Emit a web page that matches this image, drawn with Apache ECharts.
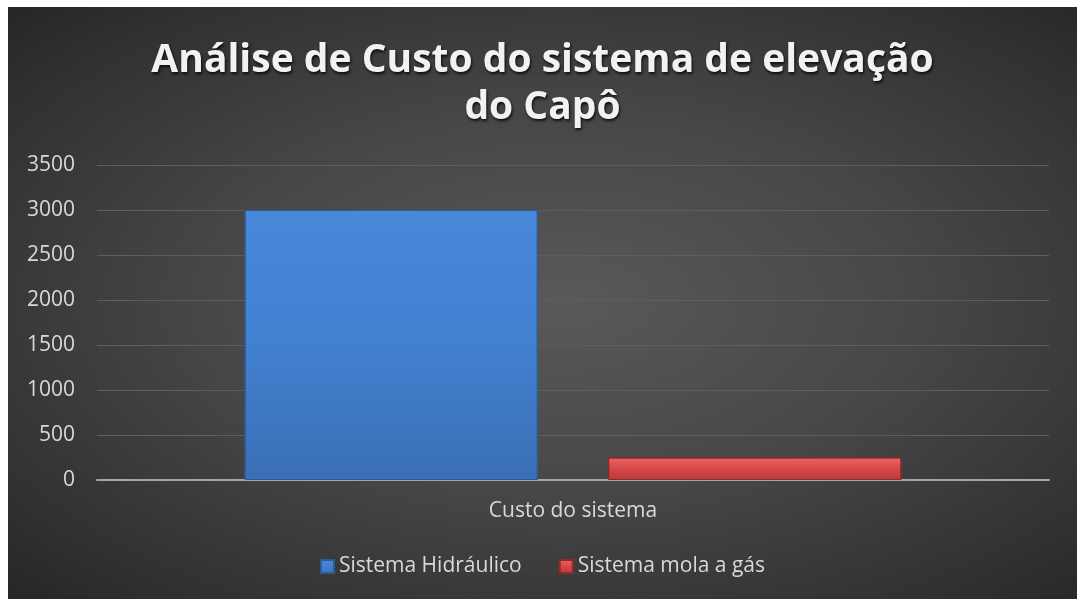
<!DOCTYPE html>
<html>
<head>
<meta charset="utf-8">
<script src="https://cdn.jsdelivr.net/npm/echarts@6/dist/echarts.min.js"></script>
<style>
  html, body { margin: 0; padding: 0; background: #ffffff; width: 1077px; height: 599px; overflow: hidden; }
  #chart { position: absolute; left: 8px; top: 7px; width: 1069px; height: 592px;
    background: radial-gradient(ellipse at 52% 50%, #595959 0%, #474747 45%, #303030 85%, #262626 100%); }
</style>
</head>
<body>
<div id="chart"></div>
<script>
const titleText = 'Análise de Custo do sistema de elevação\ndo Capô';
const categories = ['Custo do sistema'];
const seriesNames = ['Sistema Hidráulico', 'Sistema mola a gás'];
const hidraulico = [3000];
const molaGas = [250];
const yTicks = { min: 0, max: 3500, interval: 500 };

const chart = echarts.init(document.getElementById('chart'), null, { renderer: 'canvas' });
const labelColor = '#d9d9d9';
const font = '"Open Sans", sans-serif';

function barGrad(top, mid, bottom) {
  return new echarts.graphic.LinearGradient(0, 0, 0, 1, [
    { offset: 0, color: top }, { offset: 0.5, color: mid }, { offset: 1, color: bottom }
  ]);
}

chart.setOption({
  backgroundColor: 'transparent',
  title: {
    text: titleText,
    left: 'center',
    top: 25,
    textStyle: {
      color: '#f2f2f2', fontFamily: '"Open Sans", sans-serif', fontWeight: 'bold',
      fontSize: 39, lineHeight: 47,
      textShadowColor: 'rgba(0,0,0,0.8)', textShadowBlur: 3, textShadowOffsetX: 1, textShadowOffsetY: 2
    }
  },
  legend: {
    bottom: 17,
    left: 'center',
    itemWidth: 13, itemHeight: 13, itemGap: 37,
    icon: 'rect',
    textStyle: { color: labelColor, fontSize: 21, fontFamily: font },
    data: seriesNames
  },
  grid: { left: 89, right: 28, top: 158, bottom: 119 },
  xAxis: {
    type: 'category',
    data: categories,
    axisLine: { show: true, lineStyle: { color: '#a6a6a6', width: 2 } },
    axisTick: { show: false },
    axisLabel: { color: labelColor, fontSize: 21, fontFamily: font, margin: 21 }
  },
  yAxis: {
    type: 'value',
    min: yTicks.min, max: yTicks.max, interval: yTicks.interval,
    axisLine: { show: false },
    axisTick: { show: false },
    axisLabel: { color: labelColor, fontSize: 21, fontFamily: font, margin: 22, formatter: v => String(v) },
    splitLine: { lineStyle: { color: '#5e5e5e', width: 1 } }
  },
  series: [
    {
      name: seriesNames[0], type: 'bar', data: hidraulico,
      barGap: '24%', barCategoryGap: '31%',
      itemStyle: { color: barGrad('#4788d8', '#4280d0', '#3a6fb5'), borderColor: '#2f5a96', borderWidth: 1 }
    },
    {
      name: seriesNames[1], type: 'bar', data: molaGas,
      itemStyle: { color: barGrad('#ee6464', '#d84848', '#b83a3a'), borderColor: '#8e2a2a', borderWidth: 1 }
    }
  ]
});
</script>
</body>
</html>
